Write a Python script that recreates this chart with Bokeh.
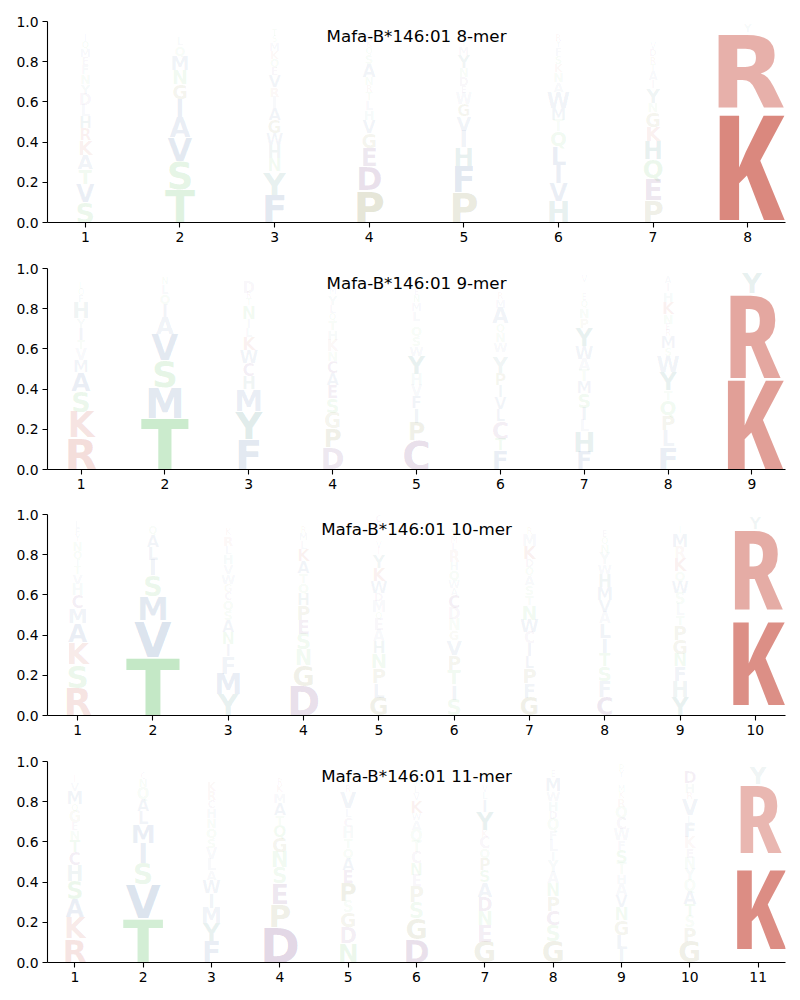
import math
from bokeh.plotting import figure
from bokeh.layouts import column
from bokeh.models import ColumnDataSource, Range1d, FixedTicker, PrintfTickFormatter, Label
from bokeh.embed import file_html
from bokeh.resources import INLINE
from bokeh.core.properties import value

TITLES = ["Mafa-B*146:01 8-mer", "Mafa-B*146:01 9-mer",
          "Mafa-B*146:01 10-mer", "Mafa-B*146:01 11-mer"]

# letters of each position, bottom to top, with their heights
MER8_LETTERS = ["SVTAKRHLDYNFEMQIGW", "TSVAIGNMQLCEDK", "FYNHWGAIRVEQKMSTCL",
                "PDEGVHLTRNASQKMYIF", "PFHIVGWEDNYMTSQRK", "HVILQTMWANKSFYRDE",
                "PEQHKGNYIATRDVSMLFW", "KRYH"]
MER8_HEIGHTS = [
    [.10, .09, .075, .075, .07, .06, .06, .055, .055, .05, .05, .045, .04, .04, .035, .03, .025, .02],
    [.165, .14, .12, .10, .095, .07, .07, .07, .05, .04, .02, .015, .015, .015],
    [.14, .115, .065, .065, .06, .065, .06, .055, .05, .06, .04, .04, .04, .04, .03, .03, .02, .015],
    [.16, .12, .095, .07, .065, .05, .05, .04, .035, .04, .065, .045, .035, .03, .03, .025, .02, .015],
    [.15, .13, .095, .085, .07, .06, .055, .035, .045, .045, .065, .04, .035, .03, .025, .02, .01],
    [.105, .09, .09, .095, .075, .055, .06, .08, .05, .05, .04, .04, .04, .03, .03, .025, .02],
    [.11, .11, .095, .09, .075, .07, .05, .07, .04, .045, .035, .035, .035, .03, .025, .02, .015, .02, .02],
    [.57, .375, .04, .01],
]

MER9_LETTERS = ["RKSAMVTIYHFQLEDN", "TMSVAIQLNCG", "FYMHCWKLINTRDSQE",
                "DPGSEACNKHTQLYMRVFWI", "CPIFVHYWSQRLMNETKDAG", "FTCLVIPYSWNQAMRKDEHG",
                "FHLISMTAWYPNQERDKVCG", "FLPQTYWSMRENKHIADG", "KRYH"]
MER9_HEIGHTS = [
    [.16, .13, .10, .095, .06, .055, .045, .06, .045, .08, .035, .03, .03, .025, .02, .015],
    [.26, .15, .135, .13, .085, .065, .05, .045, .035, .015, .01],
    [.15, .14, .11, .065, .065, .065, .065, .045, .045, .065, .035, .03, .055, .025, .02, .015],
    [.11, .095, .08, .07, .065, .06, .06, .05, .055, .05, .05, .035, .04, .05, .03, .025, .02, .015, .02, .015],
    [.145, .09, .07, .06, .055, .055, .09, .05, .05, .05, .025, .05, .04, .035, .03, .025, .02, .015, .02, .015],
    [.095, .06, .085, .06, .06, .06, .06, .08, .025, .05, .05, .04, .08, .04, .03, .025, .02, .015, .025, .02],
    [.09, .10, .055, .065, .07, .06, .055, .055, .065, .09, .05, .05, .035, .03, .025, .02, .015, .03, .02, .015],
    [.115, .08, .075, .075, .05, .09, .08, .04, .06, .03, .03, .05, .06, .05, .04, .035, .02, .015],
    [.46, .42, .10, .01],
]

MER10_LETTERS = ["RSKAMCHVTIQNYFLED", "TVMSILAQNC", "YMFINASQCGWVHLRKTDEP",
                 "DGNSEPHQTAKLMRYIVW", "GLPNHAEQMDWKYIVTSRFC", "SITPVGNDCAWQHRLMYEKF",
                 "GFPLICWNTSAQDKMREVH", "CFSTILAVMHWYNQERKDG", "YHFNGPTLSWQKRMIAVE", "KRY"]
MER10_HEIGHTS = [
    [.14, .115, .11, .095, .075, .065, .055, .05, .04, .035, .04, .045, .03, .035, .03, .02, .015],
    [.295, .18, .12, .10, .08, .065, .06, .04, .02, .01],
    [.105, .105, .085, .06, .06, .06, .05, .05, .04, .04, .05, .05, .05, .04, .05, .03, .02, .015, .015, .015],
    [.15, .10, .08, .08, .07, .07, .06, .05, .05, .06, .06, .04, .035, .03, .02, .015, .015, .01],
    [.09, .07, .075, .075, .06, .055, .055, .035, .055, .04, .06, .065, .065, .03, .03, .025, .025, .02, .03, .035],
    [.08, .075, .075, .07, .075, .05, .055, .055, .065, .035, .04, .05, .04, .055, .035, .03, .04, .025, .02, .015],
    [.09, .07, .075, .06, .065, .055, .065, .07, .05, .05, .05, .04, .04, .065, .055, .03, .025, .02, .015],
    [.09, .08, .075, .065, .075, .075, .055, .06, .065, .065, .05, .055, .04, .035, .03, .025, .02, .015, .01],
    [.09, .08, .075, .065, .07, .07, .05, .055, .055, .06, .05, .065, .055, .065, .03, .025, .02, .015],
    [.535, .395, .06],
]

MER11_LETTERS = ["RKASHCTNEGQMVIFYL", "TVSIMLAQNCGED", "FYMIWALVSQNHCRKEDTGP",
                 "DPESNGQTAMKRHLYIVW", "NDGSPEAQTHCLVRKYIMFW", "DGSPENCTQAWKVLMYIHFR",
                 "GENDASPQCKYILVTMHFRW", "GSCPNAYILFQDHWMERT", "ILGNVAHTSFWCQRKMEDYP",
                 "GPSTAQYNEKFLVRHDMI", "KRYH"]
MER11_HEIGHTS = [
    [.12, .105, .09, .09, .08, .065, .06, .05, .04, .055, .035, .065, .04, .03, .025, .02, .015],
    [.22, .17, .105, .10, .095, .065, .06, .055, .04, .03, .02, .01, .015],
    [.105, .09, .08, .07, .065, .05, .055, .055, .05, .05, .05, .05, .04, .045, .045, .025, .02, .015, .02, .015],
    [.18, .115, .10, .08, .08, .07, .06, .05, .06, .05, .035, .03, .02, .015, .015, .01, .015, .01],
    [.095, .08, .075, .055, .09, .065, .06, .05, .05, .055, .05, .04, .08, .03, .025, .025, .02, .015, .01, .02],
    [.12, .10, .08, .08, .055, .06, .055, .055, .055, .05, .035, .06, .035, .035, .03, .025, .02, .015, .015, .01],
    [.105, .085, .07, .07, .07, .06, .06, .05, .055, .035, .09, .06, .035, .03, .025, .02, .015, .02, .015, .015],
    [.105, .08, .075, .07, .065, .055, .055, .05, .055, .05, .055, .04, .05, .05, .065, .03, .02, .015],
    [.07, .07, .07, .065, .06, .055, .05, .055, .065, .05, .055, .055, .055, .04, .03, .03, .025, .02, .03, .03],
    [.105, .07, .055, .06, .065, .055, .055, .055, .05, .055, .07, .035, .08, .035, .05, .06, .02, .015],
    [.545, .345, .085, .01],
]

PANELS = [(MER8_LETTERS, MER8_HEIGHTS), (MER9_LETTERS, MER9_HEIGHTS),
          (MER10_LETTERS, MER10_HEIGHTS), (MER11_LETTERS, MER11_HEIGHTS)]

# colour groups
GROUP_COLORS = {
    "KR": (190, 45, 29),
    "STNQ": (55, 177, 62),
    "AVLIMFW": (33, 83, 150),
    "YH": (20, 110, 100),
    "DEC": (80, 10, 100),
    "PG": (100, 95, 10),
}

# ink width / cap height of each letter in DejaVu Sans Bold
INK = {"A": 1.06, "C": .88, "D": .99, "E": .77, "F": .77, "G": .97, "H": .91, "I": .26,
       "K": .99, "L": .74, "M": 1.12, "N": .91, "P": .85, "Q": 1.04, "R": .97, "S": .85,
       "T": .93, "V": 1.06, "W": 1.51, "Y": .99}
# (family, width factor, cap height / em, middle-anchor offset / em)
FONTS = [("DejaVu Sans", 1.0, 0.729, 0.33), ("DejaVu Sans Condensed", 0.893, 0.729, 0.33),
         ("Open Sans Condensed", 0.68, 0.714, 0.37)]


def color_of(letter):
    for k, v in GROUP_COLORS.items():
        if letter in k:
            return "#%02x%02x%02x" % v
    return "#888888"


def safe_size(size):
    s = int(round(size))
    if 100 <= s < 110:  # sizes such as "100px" break the renderer
        s = 99 if size < 104.5 else 110
    return max(3, s)


def pick_font(L, hc, wc, wmax):
    best = None
    for fname, s, cap, mid in FONTS:
        size = hc / cap
        w = s * INK[L] * hc
        if w > wmax:
            size *= wmax / w
        size = safe_size(size)
        hr = size * cap
        w = s * INK[L] * hr
        err = abs(math.log(hr / hc)) + abs(math.log(w / wc))
        if best is None or err < best[0]:
            best = (err, fname, size, cap, mid)
    return best[1:]


FRAME_W = 738
FRAME_H = 201
PANEL_H = [255, 246, 247, 244]
TOPS = [21, 13, 13, 13]

figs = []
for idx, (letters, heights) in enumerate(PANELS):
    n = len(letters)
    ux = FRAME_W / (n - 0.2)
    groups = {}
    for pos, (lets, hs) in enumerate(zip(letters, heights), start=1):
        base = 0.0
        wmax = (0.74 if pos == n else 0.92) * ux
        for L, h in zip(lets, hs):
            fname, size, cap, mid = pick_font(L, h * 0.97 * FRAME_H, 0.8 * ux, wmax)
            yc = base + h / 2 + (mid - cap / 2) * size / FRAME_H
            g = groups.setdefault((fname, size), dict(x=[], y=[], text=[], color=[], alpha=[]))
            g["x"].append(pos)
            g["y"].append(yc)
            g["text"].append(L)
            g["color"].append(color_of(L))
            g["alpha"].append(min(h, 0.9))
            base += h
    H = PANEL_H[idx]
    p = figure(width=792, height=H, output_backend="svg", toolbar_location=None,
               x_range=Range1d(0.6, n + 0.4), y_range=Range1d(0, 1), title=None,
               min_border_left=47, min_border_right=7, min_border_top=TOPS[idx],
               min_border_bottom=H - TOPS[idx] - FRAME_H)
    for (fname, size), g in sorted(groups.items()):
        src = ColumnDataSource(g)
        p.text(x="x", y="y", text="text", source=src, text_color="color", text_alpha="alpha",
               text_font=value(fname), text_font_size=value("%dpx" % size),
               text_font_style="bold", text_align="center", text_baseline="middle")
    p.add_layout(Label(x=(n + 1) / 2, y=0.928, text=TITLES[idx], text_align="center",
                       text_baseline="middle", text_font="DejaVu Sans",
                       text_font_size="16.7px", text_color="black"))
    p.xgrid.visible = False
    p.ygrid.visible = False
    p.outline_line_color = None
    p.background_fill_color = "white"
    p.border_fill_color = "white"
    p.xaxis.ticker = FixedTicker(ticks=list(range(1, n + 1)))
    p.yaxis.ticker = FixedTicker(ticks=[0, 0.2, 0.4, 0.6, 0.8, 1.0])
    p.yaxis.formatter = PrintfTickFormatter(format="%.1f")
    for ax in (p.xaxis[0], p.yaxis[0]):
        ax.axis_line_color = "black"
        ax.axis_line_width = 1.1
        ax.major_tick_line_color = "black"
        ax.major_tick_line_width = 1.1
        ax.major_tick_out = 5
        ax.major_tick_in = 0
        ax.minor_tick_line_color = None
        ax.major_label_text_font = "DejaVu Sans"
        ax.major_label_text_font_size = "13.9px"
        ax.major_label_text_color = "black"
        ax.major_label_standoff = 4
    figs.append(p)

layout = column(*figs, spacing=0)
open("out.html", "w").write(file_html(layout, INLINE))
